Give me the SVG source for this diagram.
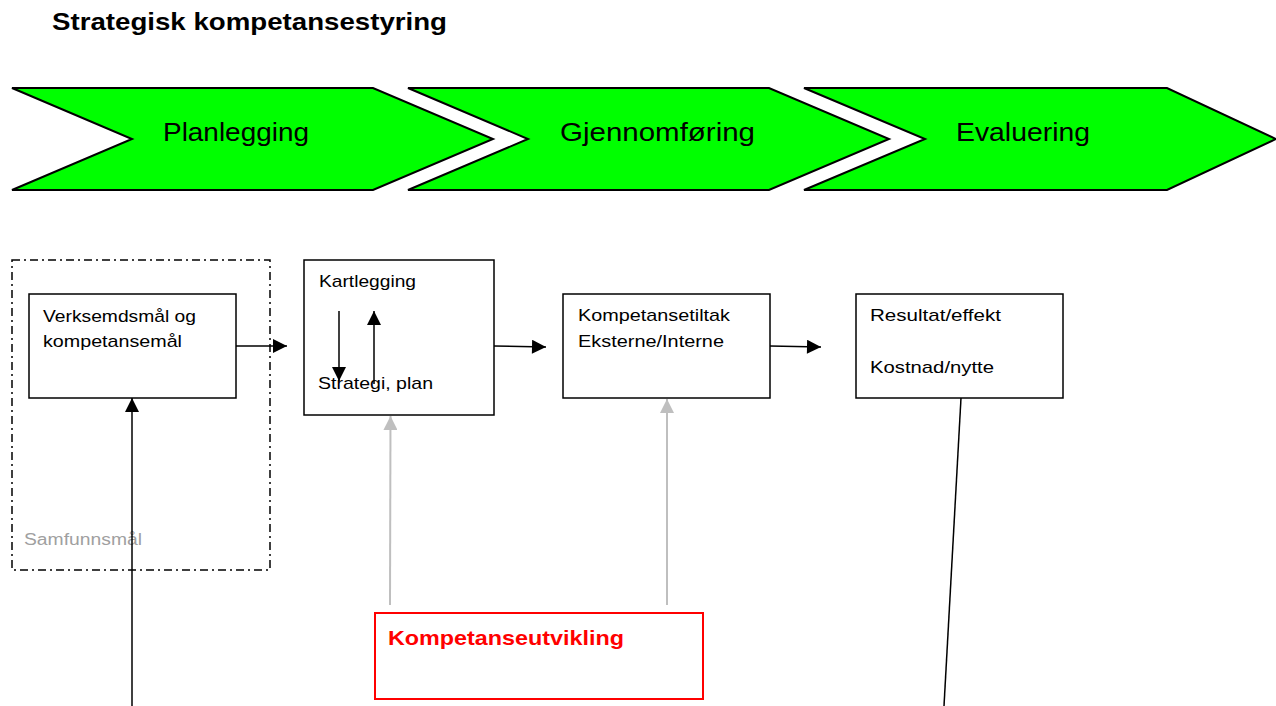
<svg xmlns="http://www.w3.org/2000/svg" width="1276" height="706" viewBox="0 0 1276 706">
<style>
text{font-family:"Liberation Sans",Arial,sans-serif;}
.chev{fill:#00ff00;stroke:#000;stroke-width:2;stroke-linejoin:miter;}
.ct{font-size:26px;fill:#000;}
.box{fill:#fff;stroke:#000;stroke-width:1.5;}
.bt{font-size:17px;fill:#000;}
.ln{stroke:#000;stroke-width:1.5;fill:none;}
.gl{stroke:#bfbfbf;stroke-width:2;fill:none;}
</style>
<defs>
<marker id="ah" viewBox="0 0 10 10" refX="10" refY="5" markerWidth="15" markerHeight="14" markerUnits="userSpaceOnUse" orient="auto"><path d="M0,0L10,5L0,10z" fill="#000"/></marker>
<marker id="ahg" viewBox="0 0 10 10" refX="10" refY="5" markerWidth="15" markerHeight="14" markerUnits="userSpaceOnUse" orient="auto"><path d="M0,0L10,5L0,10z" fill="#bfbfbf"/></marker>
</defs>
<text x="52" y="30" font-size="24" font-weight="bold" textLength="395" lengthAdjust="spacingAndGlyphs">Strategisk kompetansestyring</text>
<g id="chevron-planlegging">
<polygon class="chev" points="12,88 373,88 493,139 373,190 12,190 132,139"/>
<text class="ct" x="163" y="141" textLength="146" lengthAdjust="spacingAndGlyphs">Planlegging</text>
</g>
<g id="chevron-gjennomforing">
<polygon class="chev" points="408,88 769,88 889,139 769,190 408,190 528,139"/>
<text class="ct" x="560" y="141" textLength="195" lengthAdjust="spacingAndGlyphs">Gjennomføring</text>
</g>
<g id="chevron-evaluering">
<polygon class="chev" points="804,88 1167,88 1276,139 1167,190 804,190 925,139"/>
<text class="ct" x="956" y="141" textLength="134" lengthAdjust="spacingAndGlyphs">Evaluering</text>
</g>
<g id="samfunnsmal">
<rect x="12" y="260" width="258" height="310" fill="none" stroke="#000" stroke-width="1.5" stroke-dasharray="8,4,2,4"/>
<text x="24" y="545" font-size="16" fill="#a0a0a0" textLength="118" lengthAdjust="spacingAndGlyphs">Samfunnsmål</text>
</g>
<g id="verksemdsmal">
<rect class="box" x="29" y="294" width="207" height="104"/>
<text class="bt" x="43" y="322" textLength="153" lengthAdjust="spacingAndGlyphs">Verksemdsmål og</text>
<text class="bt" x="43" y="347" textLength="139" lengthAdjust="spacingAndGlyphs">kompetansemål</text>
</g>
<g id="kartlegging">
<rect class="box" x="304" y="260" width="190" height="155"/>
<text class="bt" x="319" y="287" textLength="97" lengthAdjust="spacingAndGlyphs">Kartlegging</text>
<text class="bt" x="318" y="389" textLength="115" lengthAdjust="spacingAndGlyphs">Strategi, plan</text>
</g>
<g id="kompetansetiltak">
<rect class="box" x="563" y="294" width="207" height="104"/>
<text class="bt" x="578" y="321" textLength="152" lengthAdjust="spacingAndGlyphs">Kompetansetiltak</text>
<text class="bt" x="578" y="347" textLength="146" lengthAdjust="spacingAndGlyphs">Eksterne/Interne</text>
</g>
<g id="resultat">
<rect class="box" x="856" y="294" width="207" height="104"/>
<text class="bt" x="870" y="321" textLength="131" lengthAdjust="spacingAndGlyphs">Resultat/effekt</text>
<text class="bt" x="870" y="373" textLength="124" lengthAdjust="spacingAndGlyphs">Kostnad/nytte</text>
</g>
<g id="kompetanseutvikling">
<rect x="375" y="613" width="328" height="86" fill="#fff" stroke="#ff0000" stroke-width="2"/>
<text x="388" y="645" font-size="21" font-weight="bold" fill="#ff0000" textLength="236" lengthAdjust="spacingAndGlyphs">Kompetanseutvikling</text>
</g>
<g id="connectors">
<line class="ln" x1="236" y1="346" x2="287" y2="346" marker-end="url(#ah)"/>
<line class="ln" x1="132" y1="706" x2="132" y2="398" marker-end="url(#ah)"/>
<line class="ln" x1="339" y1="311" x2="339" y2="381" marker-end="url(#ah)"/>
<line class="ln" x1="374" y1="384" x2="374" y2="311" marker-end="url(#ah)"/>
<line class="ln" x1="494" y1="346" x2="546" y2="347" marker-end="url(#ah)"/>
<line class="ln" x1="770" y1="346" x2="821" y2="347" marker-end="url(#ah)"/>
<line class="ln" x1="961" y1="398" x2="944" y2="706"/>
<line class="gl" x1="390" y1="605" x2="390.5" y2="416" marker-end="url(#ahg)"/>
<line class="gl" x1="667" y1="605" x2="667" y2="399" marker-end="url(#ahg)"/>
</g>
</svg>
